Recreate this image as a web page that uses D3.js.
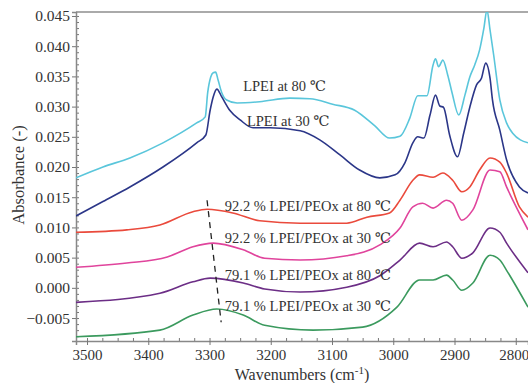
<!DOCTYPE html>
<html lang="en">
<head>
  <meta charset="UTF-8">
  <title>FTIR spectra LPEI / PEOx</title>
  <style>
      body { margin: 0; background: #fff; }
      svg text { font-family: "Liberation Serif", "Times New Roman", Times, "DejaVu Serif", serif !important; fill: #333; }
      .spec { fill: none; stroke-width: 1.6px; }
  </style>
</head>
<body>
<div id="chart"></div>
<script src="https://d3js.org/d3.v7.min.js"></script>
<script>
  // wavenumbers (cm-1) and absorbance
  const lpei80Wn  = [3518, 3474, 3430, 3376, 3321, 3307, 3303, 3298, 3294, 3290, 3286, 3280, 3272, 3255, 3218, 3169, 3136, 3099, 3063, 3030, 3006, 2989, 2973, 2960, 2945, 2935, 2931, 2926, 2919, 2911, 2904, 2893, 2883, 2875, 2867, 2859, 2852, 2847, 2842, 2836, 2826, 2815, 2805, 2780];
  const lpei80Abs = [0.0182, 0.0200, 0.0215, 0.0240, 0.0273, 0.0283, 0.0323, 0.0349, 0.0356, 0.0357, 0.0344, 0.0323, 0.0311, 0.0306, 0.0308, 0.0314, 0.0313, 0.0304, 0.0294, 0.0268, 0.0248, 0.0251, 0.0281, 0.0318, 0.0318, 0.0369, 0.0379, 0.0366, 0.0377, 0.0352, 0.0323, 0.0286, 0.0319, 0.0349, 0.0369, 0.0394, 0.0430, 0.0460, 0.0427, 0.0385, 0.0311, 0.0273, 0.0256, 0.0240];

  const lpei30Wn  = [3518, 3474, 3430, 3376, 3321, 3306, 3299, 3294, 3288, 3280, 3267, 3250, 3229, 3201, 3152, 3120, 3087, 3055, 3022, 2997, 2981, 2968, 2960, 2950, 2940, 2931, 2924, 2918, 2908, 2895, 2885, 2875, 2864, 2856, 2849, 2842, 2838, 2826, 2815, 2794, 2780];
  const lpei30Abs = [0.0119, 0.0143, 0.0167, 0.0200, 0.0240, 0.0253, 0.0294, 0.0316, 0.0329, 0.0316, 0.0294, 0.0278, 0.0265, 0.0265, 0.0260, 0.0245, 0.0220, 0.0195, 0.0182, 0.0187, 0.0207, 0.0240, 0.0250, 0.0248, 0.0286, 0.0319, 0.0301, 0.0299, 0.0253, 0.0217, 0.0256, 0.0299, 0.0336, 0.0347, 0.0372, 0.0347, 0.0311, 0.0261, 0.0212, 0.0167, 0.0157];

  const mix922at80Wn  = [3518, 3435, 3381, 3327, 3304, 3262, 3218, 3152, 3076, 3043, 3006, 2989, 2968, 2957, 2935, 2919, 2903, 2888, 2875, 2859, 2842, 2826, 2815, 2794, 2780];
  const mix922at80Abs = [0.0092, 0.0096, 0.0104, 0.0126, 0.0130, 0.0124, 0.0111, 0.0107, 0.0107, 0.0117, 0.0124, 0.0145, 0.0178, 0.0187, 0.0183, 0.0190, 0.0178, 0.0159, 0.0167, 0.0195, 0.0215, 0.0208, 0.0190, 0.0134, 0.0117];

  const mix922at30Wn  = [3518, 3435, 3369, 3327, 3294, 3245, 3210, 3152, 3076, 3022, 2989, 2968, 2952, 2935, 2913, 2903, 2888, 2870, 2842, 2826, 2815, 2780];
  const mix922at30Abs = [0.0034, 0.0041, 0.0051, 0.0068, 0.0074, 0.0063, 0.0049, 0.0046, 0.0053, 0.0071, 0.0099, 0.0134, 0.0140, 0.0132, 0.0145, 0.0140, 0.0112, 0.0129, 0.0195, 0.0192, 0.0167, 0.0096];

  const mix791at80Wn  = [3518, 3381, 3327, 3299, 3245, 3210, 3152, 3076, 3022, 2989, 2957, 2935, 2913, 2903, 2888, 2870, 2842, 2826, 2815, 2780];
  const mix791at80Abs = [-0.0024, -0.0009, 0.0010, 0.0016, 0.0008, -0.0002, -0.0007, 0.0001, 0.0020, 0.0046, 0.0074, 0.0068, 0.0076, 0.0068, 0.0049, 0.0058, 0.0099, 0.0092, 0.0074, 0.0025];

  const mix791at30Wn  = [3518, 3381, 3327, 3288, 3245, 3210, 3131, 3050, 2994, 2957, 2935, 2913, 2903, 2888, 2870, 2842, 2826, 2815, 2780];
  const mix791at30Abs = [-0.0081, -0.0070, -0.0045, -0.0035, -0.0045, -0.0062, -0.0070, -0.0065, -0.0032, 0.0013, 0.0013, 0.0021, 0.0013, -0.0004, 0.0008, 0.0054, 0.0046, 0.0029, -0.0032];

  const seriesNames = ["LPEI at 80 \u2103", "LPEI at 30 \u2103",
    "92.2 % LPEI/PEOx at 80 \u2103", "92.2 % LPEI/PEOx at 30 \u2103",
    "79.1 % LPEI/PEOx at 80 \u2103", "79.1 % LPEI/PEOx at 30 \u2103"];
  // where each label starts (wavenumber, absorbance of text middle)
  const labelWn  = [3245, 3239, 3275, 3275, 3275, 3275];
  const labelAbs = [0.0335, 0.0276, 0.0135, 0.0082, 0.0021, -0.0030];

  // dashed guide through the 3290 band maxima
  const guideWn  = [3304, 3281];
  const guideAbs = [0.0145, -0.0057];

  const yTicks = [-0.005, 0.000, 0.005, 0.010, 0.015, 0.020, 0.025, 0.030, 0.035, 0.040, 0.045];
  const xTicks = [3500, 3400, 3300, 3200, 3100, 3000, 2900, 2800];

  const colors = ["#5ac6db", "#2b3688", "#ea4a3c", "#e0449c", "#6c2e86", "#3b9a5e"];

  const series = [
    [lpei80Wn, lpei80Abs], [lpei30Wn, lpei30Abs],
    [mix922at80Wn, mix922at80Abs], [mix922at30Wn, mix922at30Abs],
    [mix791at80Wn, mix791at80Abs], [mix791at30Wn, mix791at30Abs]
  ].map(([w, a], i) => ({
    name: seriesNames[i],
    color: colors[i],
    points: w.map((d, j) => ({wn: d, abs: a[j]}))
  }));

  const W = 528, H = 383;
  const margin = {top: 12, right: 0, bottom: 42, left: 76};
  const width = W - margin.left - margin.right,
        height = H - margin.top - margin.bottom;

  const svg = d3.select("#chart").append("svg")
    .attr("width", W)
    .attr("height", H);

  const g = svg.append("g")
    .attr("transform", `translate(${margin.left},${margin.top})`);

  const x = d3.scaleLinear().domain([3518, 2780]).range([0, width]);
  const y = d3.scaleLinear().domain([-0.0088, 0.04566]).range([height, 0]);

  g.append("clipPath").attr("id", "clip")
    .append("rect").attr("width", width).attr("height", height);

  // top frame line
  g.append("line")
    .attr("x1", 0).attr("x2", width).attr("y1", 0).attr("y2", 0)
    .attr("stroke", "#aaa").attr("stroke-width", 2);

  // minor ticks
  g.append("g")
    .attr("transform", `translate(0,${height})`)
    .call(d3.axisBottom(x).tickValues(d3.range(3500, 2779, -25)).tickSize(-3).tickFormat(""))
    .call(a => a.select(".domain").remove())
    .selectAll("line").attr("stroke", "#777");
  g.append("g")
    .call(d3.axisLeft(y).tickValues(d3.range(-8, 46).map(v => v / 1000)).tickSize(-3).tickFormat(""))
    .call(a => a.select(".domain").remove())
    .selectAll("line").attr("stroke", "#777");

  const xAxis = g.append("g")
    .attr("transform", `translate(0,${height})`)
    .call(d3.axisBottom(x).tickValues(xTicks).tickSize(4).tickFormat(d3.format("d")));
  xAxis.selectAll("text").style("font-size", "15px").attr("dy", "0.8em");
  xAxis.selectAll("text").filter(d => d === 2800).attr("x", -2);

  const yAxis = g.append("g")
    .call(d3.axisLeft(y).tickValues(yTicks).tickSize(4).tickFormat(d3.format(".3f")));
  yAxis.selectAll("text").style("font-size", "15.5px").attr("x", -6);

  [xAxis, yAxis].forEach(a => {
    a.attr("font-family", null);
    a.select(".domain").attr("stroke", "#888").attr("stroke-width", 1.5);
    a.selectAll(".tick line").attr("stroke", "#777");
  });

  const line = d3.line()
    .x(d => x(d.wn))
    .y(d => y(d.abs))
    .curve(d3.curveMonotoneX);

  g.append("g").attr("clip-path", "url(#clip)")
    .selectAll("path")
    .data(series)
    .join("path")
    .attr("class", "spec")
    .attr("stroke", d => d.color)
    .attr("d", d => line(d.points));

  g.append("path")
    .datum(guideWn.map((d, i) => ({wn: d, abs: guideAbs[i]})))
    .attr("fill", "none")
    .attr("stroke", "#222")
    .attr("stroke-width", 1.3)
    .attr("stroke-dasharray", "6,5")
    .attr("d", d3.line().x(d => x(d.wn)).y(d => y(d.abs)));

  g.selectAll(".series-label")
    .data(seriesNames)
    .join("text")
    .attr("class", "series-label")
    .attr("x", (d, i) => x(labelWn[i]))
    .attr("y", (d, i) => y(labelAbs[i]))
    .attr("dy", "0.35em")
    .style("font-size", "14.5px")
    .text(d => d);

  svg.append("text")
    .attr("transform", `translate(24,175) rotate(-90)`)
    .attr("text-anchor", "middle")
    .style("font-size", "16.5px")
    .text("Absorbance (-)");

  const xt = svg.append("text")
    .attr("x", 302)
    .attr("y", 380)
    .attr("text-anchor", "middle")
    .style("font-size", "16px");
  xt.append("tspan").text("Wavenumbers (cm");
  xt.append("tspan").attr("dy", -6).style("font-size", "11px").text("-1");
  xt.append("tspan").attr("dy", 6).text(")");
</script>
</body>
</html>
